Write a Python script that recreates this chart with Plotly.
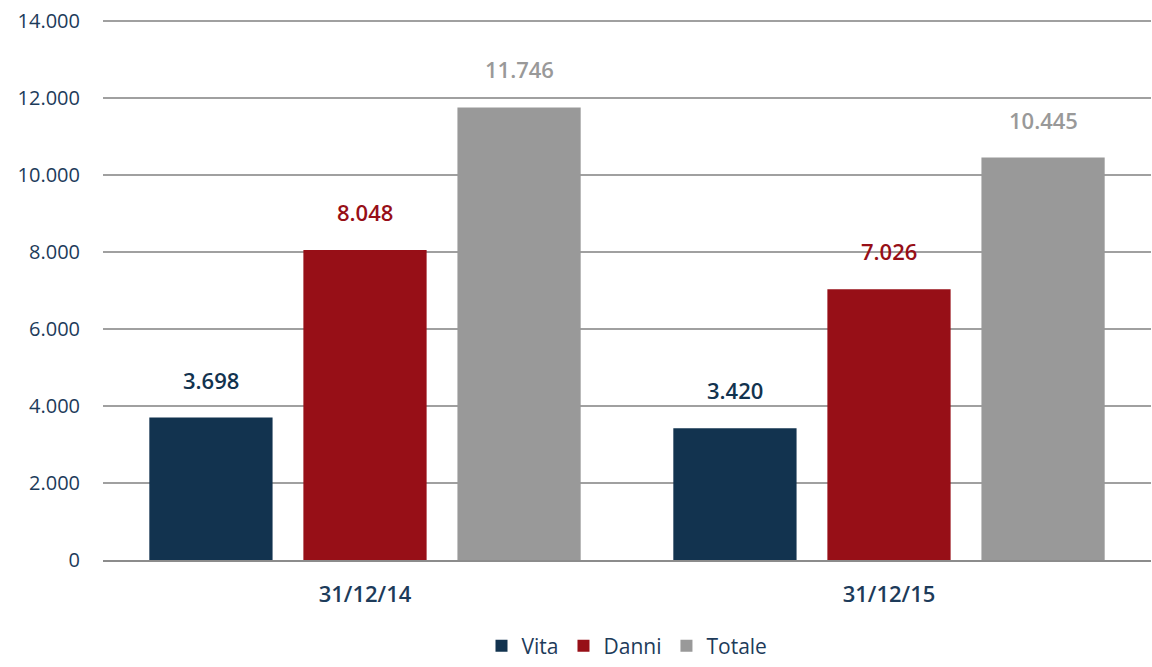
import plotly.graph_objects as go

categories = ["31/12/14", "31/12/15"]
series_names = ["Vita", "Danni", "Totale"]
vita = [3698, 3420]
danni = [8048, 7026]
totale = [11746, 10445]
label_vita = ["3.698", "3.420"]
label_danni = ["8.048", "7.026"]
label_totale = ["11.746", "10.445"]
y_ticks = [0, 2000, 4000, 6000, 8000, 10000, 12000, 14000]
y_tick_labels = ["0", "2.000", "4.000", "6.000", "8.000", "10.000", "12.000", "14.000"]

colors = ["#12334f", "#970f17", "#999999"]
FONT = "Open Sans"
NAVY = "#1d3b5a"

fig = go.Figure()
values = [vita, danni, totale]
labels = [label_vita, label_danni, label_totale]
for name, vals, col in zip(series_names, values, colors):
    fig.add_trace(go.Bar(name=name, x=categories, y=vals, marker_color=col,
                         marker_line_width=0))

shifts = [-154, 0, 154]
for vals, labs, col, sh in zip(values, labels, colors, shifts):
    for c, v, t in zip(categories, vals, labs):
        fig.add_annotation(x=c, y=v, text=t, showarrow=False, xshift=sh,
                           yshift=38, font=dict(family=FONT, size=22, color=col, weight=600))

fig.update_layout(
    autosize=True,
    margin=dict(l=103, r=1, t=19, b=92),
    plot_bgcolor="white", paper_bgcolor="white",
    barmode="group", bargap=0.118, bargroupgap=0.2,
    font=dict(family=FONT, color=NAVY),
    legend=dict(orientation="h", x=0.5, xanchor="center", y=-0.159, yanchor="middle",
                font=dict(family=FONT, size=21, color=NAVY), itemwidth=30,
                traceorder="normal"),
    showlegend=True,
)
fig.update_yaxes(range=[0, 14040], tickvals=y_ticks, ticktext=y_tick_labels,
                 showgrid=True, gridcolor="#a0a0a0", gridwidth=1.5,
                 zeroline=False, showline=False, automargin=False,
                 tickfont=dict(family=FONT, size=20, color=NAVY), ticklabelstandoff=22)
fig.update_xaxes(showline=True, linecolor="#8c8c8c", linewidth=2, automargin=False,
                 tickfont=dict(family=FONT, size=22, color=NAVY, weight=600),
                 ticklabelstandoff=14)

fig.write_html("out.html", config={"displayModeBar": False, "responsive": True},
               default_width="100vw", default_height="100vh",
               post_script="document.body.style.margin='0';document.body.style.overflow='hidden';")
